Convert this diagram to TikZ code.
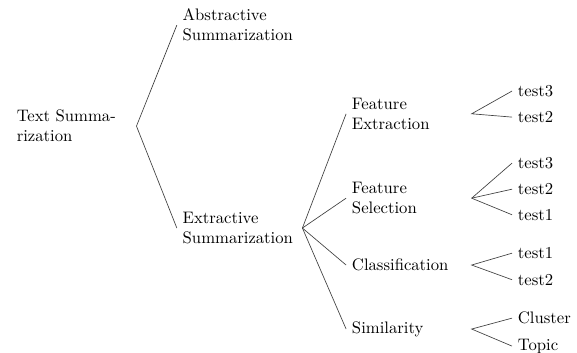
\documentclass[tikz,border=0pt]{standalone}
\usepackage{tikz}
\tikzset{
    branch/.style={anchor=west,text width=2.4cm,align=left},
    leaf/.style={anchor=west},
    link/.style={draw=black!75}
}

\begin{document}
\begin{tikzpicture}
    \useasboundingbox (0,0) rectangle (12.17,-7.44);
    % first two levels
    \node[branch] (root) at (0.23,-2.66) {Text Summa-\\rization};
    \node[branch] (abs) at (3.73,-0.53) {Abstractive\\Summarization};
    \node[branch] (ext) at (3.73,-4.81) {Extractive\\Summarization};
    \node[branch] (fe) at (7.30,-2.40) {Feature\\Extraction};
    \node[branch] (fs) at (7.30,-4.18) {Feature\\Selection};
    \node[branch] (cls) at (7.30,-5.59) {Classification};
    \node[branch] (sim) at (7.30,-6.94) {Similarity};
    % leaves
    \node[leaf] (fe3) at (10.80,-1.92) {test3};
    \node[leaf] (fe2) at (10.80,-2.47) {test2};
    \node[leaf] (fs3) at (10.80,-3.44) {test3};
    \node[leaf] (fs2) at (10.80,-3.99) {test2};
    \node[leaf] (fs1) at (10.80,-4.53) {test1};
    \node[leaf] (cls1) at (10.80,-5.34) {test1};
    \node[leaf] (cls2) at (10.80,-5.90) {test2};
    \node[leaf] (simc) at (10.80,-6.71) {Cluster};
    \node[leaf] (simt) at (10.80,-7.30) {Topic};
    % edges
    \draw[link] (abs.west) -- (root.east) -- (ext.west);
    \foreach \c in {fe,fs,cls,sim}
        \draw[link] (ext.east) -- (\c.west);
    \draw[link] (fe3.west) -- (fe.east) -- (fe2.west);
    \foreach \c in {fs3,fs2,fs1}
        \draw[link] (fs.east) -- (\c.west);
    \draw[link] (cls1.west) -- (cls.east) -- (cls2.west);
    \draw[link] (simc.west) -- (sim.east) -- (simt.west);
\end{tikzpicture}
\end{document}
